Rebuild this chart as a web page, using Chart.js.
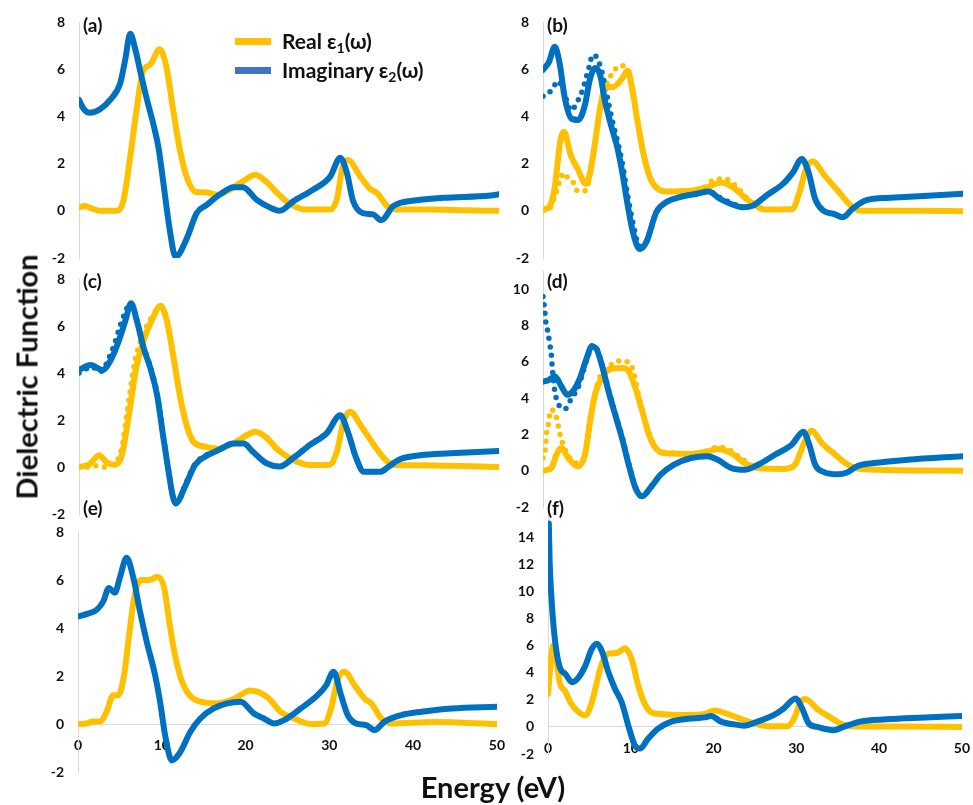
<!DOCTYPE html>
<html><head><meta charset="utf-8">
<script src="https://cdn.jsdelivr.net/npm/chart.js@4.4.1/dist/chart.umd.min.js"></script>
<style>
html,body{margin:0;padding:0;background:#fff;width:973px;height:805px;overflow:hidden;position:relative;font-family:Lato,'Open Sans',sans-serif;}
canvas{position:absolute;}
.plbl{position:absolute;font-weight:bold;font-size:19px;line-height:19px;color:#111;}
.sw{position:absolute;width:36px;height:7px;}
.lg{position:absolute;font-weight:bold;font-size:21px;line-height:24px;color:#111;white-space:nowrap;}
.lg sub{font-size:14px;vertical-align:-4px;line-height:0;}
#ytitle{position:absolute;left:26px;top:377px;transform:translate(-50%,-50%) rotate(-90deg);font-weight:bold;font-size:29px;white-space:nowrap;color:#111;}
#xtitle{position:absolute;left:493px;top:772px;transform:translateX(-50%);font-weight:bold;font-size:29px;line-height:30px;white-space:nowrap;color:#111;}
</style></head><body>
<script>
// ---------- DATA (energy in eV, dielectric values) ----------
// Panel (a)
const aImagE = [0,0.6,1.3,2.5,3.7,4.9,5.5,6.1,6.7,7.3,8.1,8.9,9.5,10.0,10.8,11.5,12.8,14.0,15.2,16.8,18.4,19.5,21.2,22.4,23.9,25.5,27.9,29.9,31.1,31.9,32.6,33.8,35.0,36.0,37.4,40.2,43.4,49,50];
const aImagV = [4.7,4.3,4.15,4.3,4.7,5.4,6.4,7.5,6.85,5.9,4.7,3.6,2.6,1.3,-0.8,-1.95,-1.2,-0.1,0.25,0.7,1.0,1.0,0.45,0.2,0.0,0.4,0.9,1.45,2.25,1.6,0.45,-0.1,-0.15,-0.4,0.2,0.45,0.55,0.65,0.7];
const aRealE = [0,0.7,1.5,2.5,4.5,5.3,6.1,6.9,7.6,8.5,9.6,10.4,11.2,12.0,12.8,13.9,15.2,16.4,18.0,19.5,21.0,22.4,23.6,25.1,27.1,29.9,30.7,31.4,32.0,33.5,34.6,35.5,36.7,38.2,42,46,50];
const aRealV = [0.15,0.2,0.1,0.0,0.0,0.45,2.3,4.4,5.9,6.2,6.85,6.1,4.3,2.6,1.45,0.8,0.78,0.68,0.9,1.25,1.53,1.2,0.75,0.3,0.05,0.05,0.5,1.9,2.15,1.45,0.95,0.75,0.2,0.05,0.05,0.02,0.0];
// Panel (b)
const bImagE = [0,0.7,1.4,2.0,2.6,3.4,4.2,5.0,5.6,6.2,6.8,7.4,8.2,8.9,9.5,10.1,10.7,11.5,12.3,13.5,14.7,16.3,18.3,19.7,21.1,22.3,23.8,25.0,26.6,28.6,29.8,30.8,31.6,32.4,33.4,34.6,35.7,36.9,38.5,41.3,45.3,50];
const bImagV = [5.97,6.3,6.95,6.2,4.77,3.9,3.85,4.5,5.6,6.05,5.75,4.6,3.5,2.6,1.5,0.2,-0.9,-1.62,-1.33,-0.05,0.37,0.58,0.72,0.82,0.5,0.3,0.15,0.22,0.65,1.15,1.65,2.2,1.65,0.5,0.0,-0.13,-0.27,0.1,0.45,0.55,0.63,0.72];
const bImagDotE = [0,1.0,1.8,2.6,3.3,4.2,4.7,5.1,5.5,5.9,6.4,7.0,7.6,8.2,8.9,9.5,10.1,10.7,11.5,12.3,13.5,14.7,16.3,18.3,19.7,21.1,22.3,23.8,25.0];
const bImagDotV = [4.85,5.1,5.5,4.9,4.25,4.7,5.1,5.6,6.1,6.6,6.5,5.9,4.9,3.9,2.9,1.9,0.6,-0.5,-1.5,-1.3,-0.05,0.37,0.58,0.72,0.82,0.55,0.35,0.15,0.22];
const bRealE = [0,0.8,1.4,1.7,2.1,2.5,3.3,4.1,5.1,5.6,6.2,6.8,7.4,8.4,9.4,10.1,10.6,11.2,12.0,12.8,13.6,14.8,17.6,19.6,21.2,22.8,24.4,26.4,29.7,30.5,31.3,32.1,33.5,35.1,36.7,37.9,45,50];
const bRealV = [0.05,0.2,1.0,1.9,3.05,3.35,2.35,1.8,1.15,1.6,2.9,4.35,5.2,5.25,5.6,5.93,5.2,3.9,2.35,1.35,0.95,0.82,0.85,1.0,1.2,0.95,0.45,0.05,0.08,0.75,1.75,2.1,1.5,0.85,0.2,0.0,0.0,-0.02];
const bRealDotE = [0,0.8,1.3,1.6,2.0,2.5,3.1,3.6,4.1,5.1,5.6,6.2,6.8,7.4,8.2,9.2,10.1,10.6,11.2,12.0,12.8,13.6,14.8,17.6,19.2,20.3,21.7,22.8,24.4,26.0];
const bRealDotV = [0,0.1,0.5,0.8,1.3,1.6,1.3,1.2,0.85,0.85,1.6,2.9,4.35,5.2,5.8,6.15,5.95,5.2,3.9,2.35,1.35,0.95,0.82,0.85,1.0,1.3,1.35,1.1,0.5,0.1];
// Panel (c)
const cImagE = [0,1.4,2.8,3.7,4.7,5.5,6.2,6.9,7.7,8.5,9.3,10.0,10.6,11.2,11.5,12.7,13.8,15.0,16.6,18.4,19.6,20.7,22.3,23.9,25.5,27.5,29.5,31.1,32.0,33.0,33.9,35.9,36.8,38.2,40.6,44.2,50];
const cImagV = [4.13,4.34,4.13,4.5,5.33,6.2,6.97,6.2,5.06,4.2,3.06,1.36,-0.05,-1.3,-1.55,-0.77,0.08,0.44,0.72,1.0,1.0,0.65,0.16,0.02,0.38,0.94,1.44,2.2,1.5,0.38,-0.2,-0.2,0.0,0.33,0.5,0.58,0.68];
const cImagDotE = [0,1.0,1.6,2.4,3.0,3.5,4.2,4.8,5.4,6.1,6.9,7.7,8.5,9.3,10.0,10.6,11.2,11.6,12.7,13.8,15.0,16.6,18.4,19.6,20.7,22.3,23.9,25.5,27.5,29.5,31.1,32.0,33.0,33.9,35.9,36.8,38.2];
const cImagDotV = [4.0,4.2,4.25,4.05,4.2,4.6,5.2,5.9,6.5,6.95,6.25,5.1,4.25,3.1,1.4,0.0,-1.3,-1.55,-0.72,0.12,0.48,0.75,1.0,1.0,0.65,0.16,0.02,0.4,0.96,1.46,2.2,1.5,0.38,-0.2,-0.2,0.0,0.33];
const cRealE = [0,1.2,2.4,3.3,4.3,5.1,6.0,6.8,7.8,8.8,9.7,10.4,11.2,12.0,12.8,13.6,15,16.6,18.4,20,21,22.3,23.7,25.5,27.5,29.9,30.7,31.5,32.3,33.5,35.1,36.3,37.3,40,50];
const cRealV = [0.0,0.1,0.5,0.2,0.1,0.5,2.35,4.2,5.5,6.35,6.86,6.3,4.77,3.06,1.79,1.08,0.86,0.78,1.0,1.36,1.5,1.25,0.72,0.3,0.08,0.1,0.65,1.93,2.35,1.79,0.94,0.38,0.1,0.07,0.0];
const cRealDotE = [0,1,2,2.8,4,4.6,5.2,5.6,6.0,6.5,7.0,7.8,8.8,9.7,10.4,11.2,12.0,12.8,13.6,15,16.6,18.4,20,21,22.3,23.7,25.5,27.5,29.9,30.7,31.5,32.3,33.5,35.1,36.3,37.3];
const cRealDotV = [0,0,0.05,0.0,0.1,0.3,1.0,2.0,3.0,4.2,5.0,5.8,6.45,6.85,6.35,4.85,3.1,1.8,1.1,0.88,0.8,1.02,1.38,1.5,1.27,0.74,0.32,0.1,0.12,0.67,1.95,2.35,1.8,0.96,0.4,0.12];
// Panel (d)
const dImagE = [0,0.7,1.4,2.2,2.9,3.6,4.4,5.2,5.8,6.3,7.0,7.8,8.6,9.4,10.2,11.0,11.8,12.8,14.0,15.6,17.6,19.6,20.8,22.4,24.0,25.6,27.6,29.6,31.0,31.7,32.4,33.4,35.0,36.2,37.4,39.4,43.4,50];
const dImagV = [4.9,5.0,5.2,4.64,4.18,4.4,5.1,6.2,6.84,6.75,5.83,4.37,3.08,1.8,0.33,-0.94,-1.41,-0.94,-0.22,0.33,0.7,0.8,0.6,0.15,0.05,0.33,0.88,1.43,2.15,1.43,0.33,-0.07,-0.2,-0.1,0.25,0.42,0.6,0.8];
const dImagDotE = [0,0.2,0.3,0.6,0.8,1.0,1.1,1.4,1.8,2.6,3.4,4.2,4.8,5.4,6.0,6.4,7.0,7.8,8.6,9.4,10.2,11.0,11.8,12.8,14.0];
const dImagDotV = [9.6,8.85,8.3,7.6,7.0,6.35,5.7,4.4,3.7,3.4,4.0,4.6,5.5,6.4,6.95,6.7,5.9,4.45,3.15,1.9,0.4,-0.9,-1.45,-0.9,-0.2];
const dRealE = [0,1.0,1.6,2.2,3.0,4.1,5.0,5.6,6.2,7.0,8.0,9.6,10.3,11.0,11.8,12.6,13.4,14.4,17.6,19.6,20.8,22.4,24.0,25.6,28.8,30.0,31.0,32.0,33.2,34.8,36.0,37.2,40,50];
const dRealV = [0,0.15,0.88,1.25,0.7,0.24,0.88,2.7,4.2,5.1,5.6,5.65,5.4,4.55,3.3,2.0,1.25,0.97,0.92,1.06,1.2,0.97,0.42,0.15,0.1,0.33,1.43,2.2,1.52,0.88,0.42,0.15,0.05,0.0];
const dRealDotE = [0,0.3,0.4,0.7,0.9,1.5,1.8,2.1,2.8,3.6,4.4,5.0,5.5,6.1,6.8,7.9,9.1,10.3,10.8,11.4,12.2,13.0,14.0,17.6,19.6,20.8,22.0,23.5,25];
const dRealDotV = [0.7,1.34,2.0,2.7,3.35,3.1,2.5,1.85,1.0,0.5,0.4,1.0,2.6,4.1,5.2,5.75,6.05,5.95,5.4,4.1,2.7,1.6,1.05,0.95,1.1,1.3,1.2,0.7,0.25];
// Panel (e)
const eImagE = [0,1.2,2.2,3.0,3.7,4.4,5.0,5.8,6.6,7.4,8.2,9.2,9.8,10.4,11.2,12.2,13.4,14.6,16.2,17.8,19.4,21.0,22.2,23.4,24.6,26.6,28.6,29.6,30.5,31.4,32.2,33.2,34.4,35.4,36.6,38.6,41,44.6,50];
const eImagV = [4.48,4.6,4.75,5.1,5.67,5.47,6.1,6.93,6.1,4.69,3.43,2.04,0.92,-0.47,-1.52,-1.17,-0.33,0.23,0.65,0.86,0.93,0.44,0.23,0.02,0.16,0.65,1.2,1.6,2.18,1.2,0.37,0.02,-0.05,-0.25,0.1,0.37,0.51,0.65,0.72];
const eRealE = [0,1,1.8,2.6,3.4,4.2,4.8,5.5,6.1,6.7,7.5,8.5,9.5,10.3,10.9,11.5,12.3,13.3,14.6,16.6,18.6,20.6,22.6,24.2,25.8,27.8,29.4,30.2,31.0,31.8,33.0,34.2,35.0,36.2,37.4,42.5,50];
const eRealV = [0,0.02,0.1,0.1,0.5,1.2,1.2,2.04,3.7,5.25,6.0,6.0,6.14,5.65,4.25,3.0,1.88,1.2,0.93,0.86,1.04,1.4,1.12,0.5,0.23,0.0,0.02,0.65,1.85,2.18,1.62,1.06,0.86,0.23,0.02,0.08,0.0];
// Panel (f)
const fImagE = [0.1,0.2,0.4,0.7,1.1,1.5,2.1,2.9,3.7,4.5,5.3,5.9,6.5,7.3,8.1,8.9,9.7,10.5,11.1,12.1,13.3,14.9,16.9,18.9,19.7,20.9,22.9,23.7,25.3,27.3,28.5,29.9,30.7,31.5,32.5,34.5,35.7,37.7,40.9,44.9,50];
const fImagV = [15.0,12.2,9.7,7.24,5.27,4.28,3.9,3.3,3.66,4.5,5.76,6.13,5.6,4.03,2.8,1.82,0.1,-1.38,-1.6,-0.86,-0.12,0.39,0.6,0.7,0.8,0.39,0.15,0.08,0.39,0.88,1.37,2.1,1.37,0.25,0.0,-0.25,0.0,0.39,0.56,0.68,0.8];
const fRealE = [0,0.3,0.6,0.9,1.4,2.1,2.7,3.5,4.5,5.3,5.9,6.5,7.3,8.3,9.3,10.1,10.9,11.7,12.5,13.7,16.9,18.9,20.1,21.7,23.3,24.9,26.5,28.9,29.7,30.5,31.1,32.5,34.1,35.3,36.5,42,50];
const fRealV = [2.43,4.5,6.0,5.5,3.3,2.6,1.82,1.2,0.84,1.82,3.3,4.65,5.4,5.45,5.8,5.0,3.05,1.7,1.06,0.95,0.87,0.95,1.2,0.95,0.58,0.27,0.05,0.05,0.58,1.82,2.06,1.33,0.7,0.25,0.05,0.02,0.0];

const energyTicks = [0,10,20,30,40,50];
const panelLabels = ['(a)','(b)','(c)','(d)','(e)','(f)'];
const seriesNames = ['Real ε1(ω)','Imaginary ε2(ω)'];

// ---------- STYLE ----------
const BLUE = '#0070C0', GOLD = '#FFC000';
const pts = (E,V) => E.map((e,i)=>({x:e,y:V[i]}));
function solid(E,V,color,order){return {data:pts(E,V),borderColor:color,borderWidth:6,pointRadius:0,cubicInterpolationMode:'monotone',borderCapStyle:'round',borderJoinStyle:'round',fill:false,order};}
function dotted(E,V,color,order){return {data:pts(E,V),borderColor:color,borderWidth:5.5,pointRadius:0,cubicInterpolationMode:'monotone',borderCapStyle:'round',borderDash:[0,8.5],fill:false,order};}

const tickFont = {family:'Lato', weight:'bold', size:14};
function makePanel(L,T,W,H,yMin,yMax,showX,datasets,hideTop){
  const padT=30,padB=30,padR=20,yW=50;
  const cv=document.createElement('canvas');
  cv.width=yW+W+padR; cv.height=padT+H+padB;
  cv.style.width=cv.width+'px'; cv.style.height=cv.height+'px';
  cv.style.left=(L-yW)+'px'; cv.style.top=(T-padT)+'px';
  document.body.appendChild(cv);
  const ch=new Chart(cv,{type:'line',data:{datasets},options:{
    responsive:false,maintainAspectRatio:false,animation:false,devicePixelRatio:1,
    layout:{padding:{top:padT,right:padR,bottom:padB,left:0}},
    plugins:{legend:{display:false},tooltip:{enabled:false}},
    scales:{
      x:{type:'linear',min:0,max:50,display:showX,position:showX?{y:0}:'bottom',
         grid:{display:false,drawTicks:false},border:{display:true,color:'#d9d9d9',width:1},
         afterBuildTicks:(s)=>{s.ticks=energyTicks.map(v=>({value:v}));},
         ticks:{padding:13,color:'#111',font:tickFont,maxRotation:0,autoSkip:false},
         afterFit:(s)=>{s.height=0;}},
      y:{type:'linear',min:yMin,max:yMax,
         grid:{display:false,drawTicks:false},border:{display:true,color:'#d9d9d9',width:1},
         ticks:{stepSize:2,includeBounds:false,padding:14,color:'#111',font:tickFont,
                callback:(v)=>(hideTop!==undefined && v===hideTop)?'':v},
         afterFit:(s)=>{s.width=yW;}}
    }}});
  // correct the layout so the plot area lands exactly on the intended box
  for(let k=0;k<3;k++){
    const ca=ch.chartArea;
    const p=ch.options.layout.padding;
    if(Math.abs(ca.top-padT)<0.5 && Math.abs(ca.bottom-padT-H)<0.5 && Math.abs(ca.right-yW-W)<0.5) break;
    ch.options.layout.padding={top:p.top-(ca.top-padT),bottom:p.bottom-((padT+H)-ca.bottom),right:p.right-((yW+W)-ca.right),left:0};
    ch.update('none');
  }
}

makePanel(79,22,420,236,-2,8,false,[solid(aImagE,aImagV,BLUE,1),solid(aRealE,aRealV,GOLD,2)]);
makePanel(543,22,420,236,-2,8,false,[solid(bImagE,bImagV,BLUE,1),solid(bRealE,bRealV,GOLD,2),dotted(bImagDotE,bImagDotV,BLUE,3),dotted(bRealDotE,bRealDotV,GOLD,4)]);
makePanel(79,279,420,235,-2,8,false,[solid(cImagE,cImagV,BLUE,1),solid(cRealE,cRealV,GOLD,2),dotted(cImagDotE,cImagDotV,BLUE,3),dotted(cRealDotE,cRealDotV,GOLD,4)]);
makePanel(543,271,420,236,-2,11,false,[solid(dImagE,dImagV,BLUE,1),solid(dRealE,dRealV,GOLD,2),dotted(dImagDotE,dImagDotV,BLUE,3),dotted(dRealDotE,dRealDotV,GOLD,4)]);
makePanel(78,532,420,240,-2,8,true,[solid(eImagE,eImagV,BLUE,1),solid(eRealE,eRealV,GOLD,2)]);
makePanel(548,510,415,244,-2,16,true,[solid(fImagE,fImagV,BLUE,1),solid(fRealE,fRealV,GOLD,2)],16);

// ---------- TEXT ----------
const lblPos=[[83,15],[547,15],[83,271],[547,271],[83,498],[547,498]];
panelLabels.forEach((t,i)=>{const d=document.createElement('div');d.className='plbl';d.textContent=t;d.style.left=lblPos[i][0]+'px';d.style.top=lblPos[i][1]+'px';document.body.appendChild(d);});
function legendItem(top,color,name){
  const s=document.createElement('div');s.className='sw';s.style.left='235px';s.style.top=(top+9)+'px';s.style.background=color;document.body.appendChild(s);
  const t=document.createElement('div');t.className='lg';t.style.left='282px';t.style.top=top+'px';
  const m=name.match(/^(.*ε)(\d)(\(ω\))$/);
  t.innerHTML=m[1]+'<sub>'+m[2]+'</sub>'+m[3];
  document.body.appendChild(t);
}
legendItem(29,GOLD,seriesNames[0]);
legendItem(58,'#4472C4',seriesNames[1]);
const yt=document.createElement('div');yt.id='ytitle';yt.textContent='Dielectric Function';document.body.appendChild(yt);
const xt=document.createElement('div');xt.id='xtitle';xt.textContent='Energy (eV)';document.body.appendChild(xt);
</script>
</body></html>
